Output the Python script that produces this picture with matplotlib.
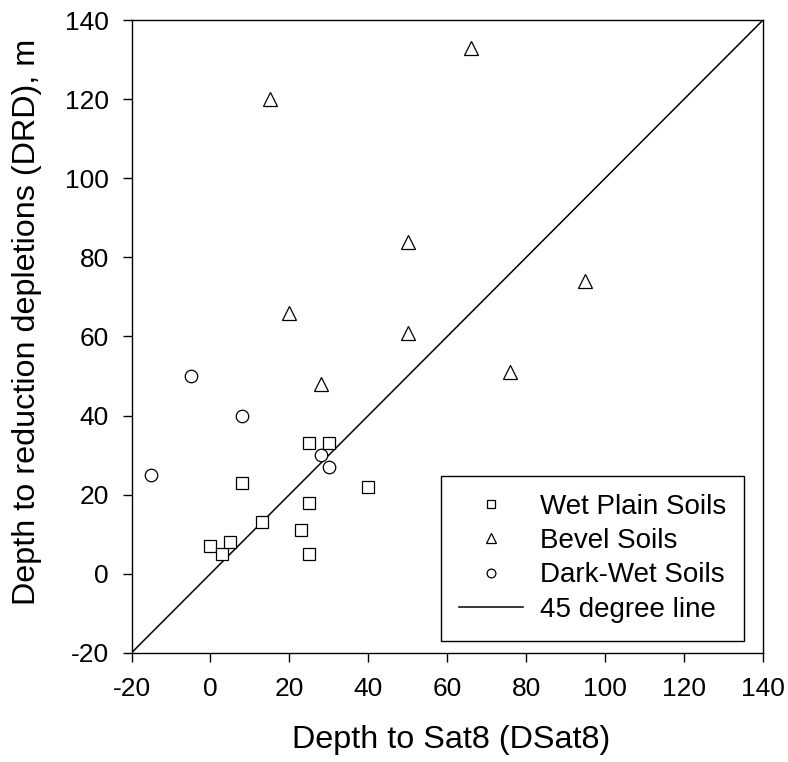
import numpy as np
import matplotlib
matplotlib.use("Agg")
import matplotlib.pyplot as plt

plt.rcParams['font.family'] = ['Liberation Sans', 'DejaVu Sans']
plt.rcParams['axes.unicode_minus'] = False

# Wet Plain Soils
wet_x = [0, 3, 5, 13, 8, 25, 30, 25, 23, 25, 40]
wet_y = [7, 5, 8, 13, 23, 33, 33, 18, 11, 5, 22]

# Bevel Soils
bevel_x = [15, 66, 50, 20, 50, 28, 95, 76]
bevel_y = [120, 133, 84, 66, 61, 48, 74, 51]

# Dark-Wet Soils
dark_x = [-15, -5, 8, 28, 30]
dark_y = [25, 50, 40, 30, 27]

line_ends = [-20, 140]

fig = plt.figure(figsize=(7.88, 7.62), dpi=100)
ax = fig.add_axes([0.167, 0.1434, 0.801, 0.830])

ax.plot(wet_x, wet_y, 's', ms=8, mfc='white', mec='black', mew=0.9,
        label='Wet Plain Soils', zorder=3)
ax.plot(bevel_x, bevel_y, '^', ms=9.5, mfc='white', mec='black', mew=0.9,
        label='Bevel Soils', zorder=3)
ax.plot(dark_x, dark_y, 'o', ms=9, mfc='white', mec='black', mew=0.9,
        label='Dark-Wet Soils', zorder=3)
ax.plot(line_ends, line_ends, '-', color='black', lw=1.1,
        label='45 degree line', zorder=2)

ax.set_xlim(-20, 140)
ax.set_ylim(-20, 140)
ax.set_xticks(np.arange(-20, 141, 20))
ax.set_yticks(np.arange(-20, 141, 20))
ax.tick_params(direction='out', length=6.5, width=1, labelsize=19)
ax.tick_params(axis='x', pad=11)
ax.tick_params(axis='y', pad=10)
for s in ax.spines.values():
    s.set_linewidth(1)
    s.set_color('black')

ax.set_xlabel('Depth to Sat8 (DSat8)', fontsize=23.3)
ax.set_ylabel('Depth to reduction depletions (DRD), m', fontsize=23.3)
ax.xaxis.set_label_coords(0.506, -0.114)
ax.yaxis.set_label_coords(-0.142, 0.523)

leg = ax.legend(loc='lower right', bbox_to_anchor=(0.970, 0.019),
                borderaxespad=0, fontsize=20, markerscale=0.7,
                handlelength=2.3, handletextpad=0.6, labelspacing=0.3,
                borderpad=0.65, fancybox=False, framealpha=1)
leg.get_frame().set_edgecolor('black')
leg.get_frame().set_linewidth(1)

fig.savefig('out.png', dpi=100)
